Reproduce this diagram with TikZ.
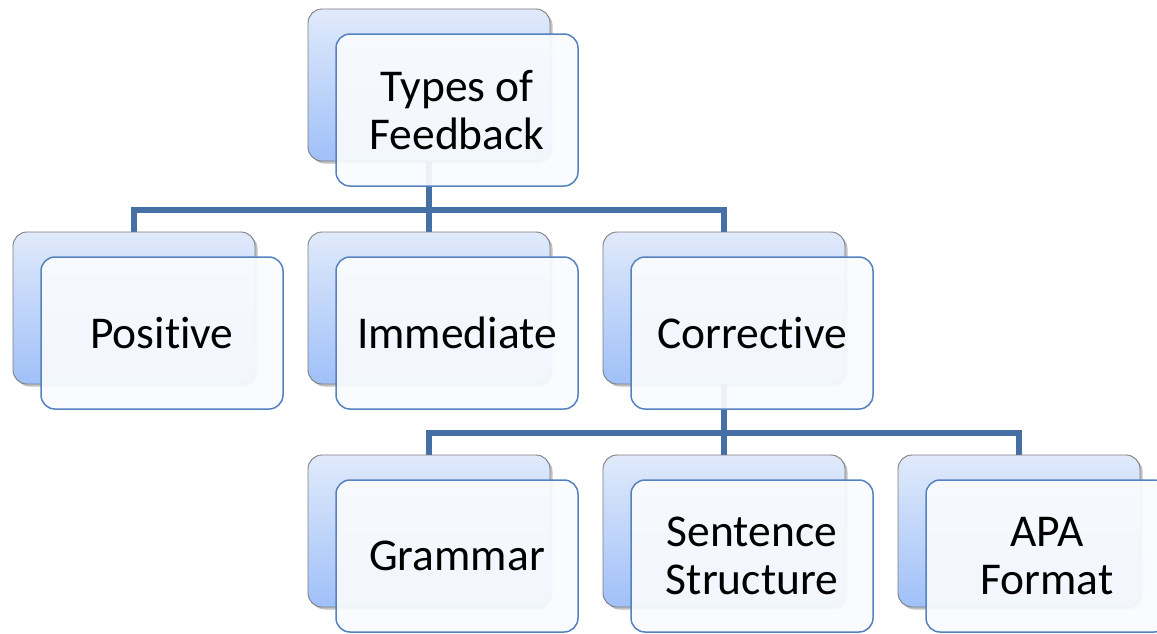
\documentclass[tikz,border=0pt]{standalone}
\usepackage{fontspec}
\setmainfont[Ligatures=NoCommon]{Carlito}
\usetikzlibrary{shadows,calc}
\newcommand{\nolig}{\kern0pt{}}
\definecolor{connblue}{RGB}{70,112,165}
\definecolor{frontedge}{RGB}{84,130,190}
\definecolor{fronfill}{RGB}{249,251,254}
\definecolor{backtop}{RGB}{224,234,251}
\definecolor{backbot}{RGB}{160,192,248}
\definecolor{backedge}{RGB}{125,125,125}
\begin{document}
\begin{tikzpicture}[x=1pt,y=-1pt,
  backbox/.style={minimum width=242pt,minimum height=152pt,rounded corners=14pt,
    draw=backedge,line width=0.9pt,top color=backtop,bottom color=backbot,
    drop shadow={shadow xshift=2.5pt,shadow yshift=-2.5pt,opacity=0.35,fill=black!70}},
  frontbox/.style={minimum width=242pt,minimum height=152pt,rounded corners=14pt,
    draw=frontedge,line width=1.5pt,fill=fronfill,fill opacity=0.93,text opacity=1,
    align=center,font=\fontsize{45.5}{48}\selectfont,inner sep=0pt},
  conn/.style={draw=connblue,line width=5.5pt,line join=miter}]
\useasboundingbox (0,0) rectangle (1157,633);
\clip (0,0) rectangle (1157,633);
% positions of back boxes
\coordinate (ptb) at (429,85);
\coordinate (pb1) at (134,308);
\coordinate (pb2) at (429,308);
\coordinate (pb3) at (724,308);
\coordinate (pc1) at (429,531);
\coordinate (pc2) at (724,531);
\coordinate (pc3) at (1019,531);
% invisible anchors for connectors
\node[minimum width=242pt,minimum height=152pt] (tb) at (ptb) {};
\node[minimum width=242pt,minimum height=152pt] (b1) at (pb1) {};
\node[minimum width=242pt,minimum height=152pt] (b2) at (pb2) {};
\node[minimum width=242pt,minimum height=152pt] (b3) at (pb3) {};
\node[minimum width=242pt,minimum height=152pt] (c1) at (pc1) {};
\node[minimum width=242pt,minimum height=152pt] (c2) at (pc2) {};
\node[minimum width=242pt,minimum height=152pt] (c3) at (pc3) {};
% connectors
\coordinate (h1) at ([yshift=22pt]b2.north);
\coordinate (h2) at ([yshift=22pt]c2.north);
\draw[conn] (tb.south) -- (h1);
\draw[conn] (b1.north) |- (h1) -| (b3.north);
\draw[conn] (h1) -- (b2.north);
\draw[conn] (b3.south) -- (h2);
\draw[conn] (c1.north) |- (h2) -| (c3.north);
\draw[conn] (h2) -- (c2.north);
% back boxes
\foreach \n in {tb,b1,b2,b3,c1,c2,c3}{
  \node[backbox] at (\n) {};
}
% front boxes
\node[frontbox] (ftb) at ($(tb)+(28,25)$) {Types of\\Feedback};
\node[frontbox] (fb1) at ($(b1)+(28,25)$) {Posit\nolig ive};
\node[frontbox] (fb2) at ($(b2)+(28,25)$) {Immediate};
\node[frontbox] (fb3) at ($(b3)+(28,25)$) {Correct\nolig ive};
\node[frontbox] (fc1) at ($(c1)+(28,25)$) {Grammar};
\node[frontbox] (fc2) at ($(c2)+(28,25)$) {Sentence\\Structure};
\node[frontbox] (fc3) at ($(c3)+(28,25)$) {APA\\Format};
\end{tikzpicture}
\end{document}
